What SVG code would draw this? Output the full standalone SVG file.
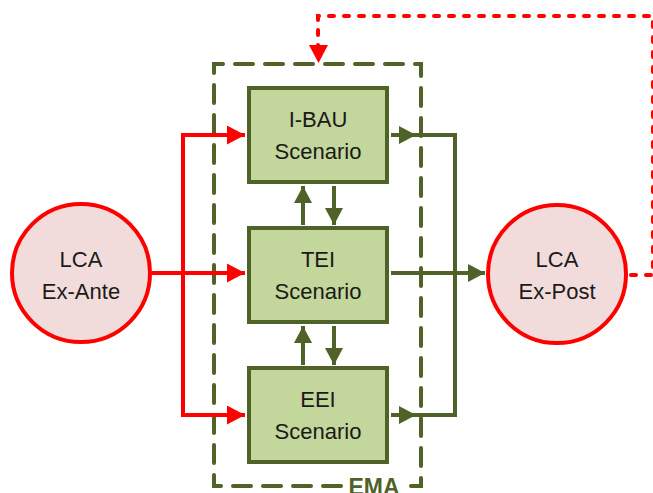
<svg xmlns="http://www.w3.org/2000/svg" width="653" height="493" viewBox="0 0 653 493">
<style>
.box{fill:#c3d69b;stroke:#4f6228;stroke-width:4}
.circ{fill:#f2dcdb;stroke:#ff0000;stroke-width:4}
.lbl{font-family:"Liberation Sans",Arial,sans-serif;font-size:22px;fill:#1a1a1a;text-anchor:middle}
.g{fill:none;stroke:#4f6228;stroke-width:4}
.r{fill:none;stroke:#ff0000;stroke-width:4}
</style>
<defs>
<marker id="ag" markerUnits="userSpaceOnUse" markerWidth="17" markerHeight="18" refX="17" refY="9" orient="auto"><path d="M0,0 L17,9 L0,18 z" fill="#4f6228"/></marker>
<marker id="ar" markerUnits="userSpaceOnUse" markerWidth="18" markerHeight="19" refX="18" refY="9.5" orient="auto"><path d="M0,0 L18,9.5 L0,19 z" fill="#ff0000"/></marker>
</defs>
<g id="ema">
<path d="M341,486 H214 V64 H421 V486 H405" fill="none" stroke="#4f6228" stroke-width="4" stroke-dasharray="18 12" stroke-linecap="round"/>
<text x="374" y="495" font-family="'Liberation Sans',Arial,sans-serif" font-weight="bold" font-size="23" fill="#4f6228" text-anchor="middle">EMA</text>
</g>
<g id="connectors">
<path class="r" d="M152,273 H245" marker-end="url(#ar)"/>
<path class="r" d="M183,135 V415"/>
<path class="r" d="M181,135 H245" marker-end="url(#ar)"/>
<path class="r" d="M181,415 H245" marker-end="url(#ar)"/>
<path class="g" d="M391,135 H416" marker-end="url(#ag)"/>
<path class="g" d="M391,415 H416" marker-end="url(#ag)"/>
<path class="g" d="M414,135 H455 V415 H414"/>
<path class="g" d="M391,273 H485" marker-end="url(#ag)"/>
<path class="g" d="M303,225 V186" marker-end="url(#ag)"/>
<path class="g" d="M334,186 V225" marker-end="url(#ag)"/>
<path class="g" d="M303,365 V326" marker-end="url(#ag)"/>
<path class="g" d="M334,326 V365" marker-end="url(#ag)"/>
<path d="M631,275 H653 V16 H318 V50" fill="none" stroke="#ff0000" stroke-width="4" stroke-dasharray="5 10" stroke-linecap="round"/>
<path d="M309,45 L328,45 L318.5,63 z" fill="#ff0000"/>
</g>
<g id="ibau">
<rect class="box" x="249" y="88" width="138" height="94"/>
<text class="lbl" x="318" y="127">I-BAU</text>
<text class="lbl" x="318" y="159">Scenario</text>
</g>
<g id="tei">
<rect class="box" x="249" y="228" width="138" height="94"/>
<text class="lbl" x="318" y="267">TEI</text>
<text class="lbl" x="318" y="299">Scenario</text>
</g>
<g id="eei">
<rect class="box" x="249" y="368" width="138" height="94"/>
<text class="lbl" x="318" y="407">EEI</text>
<text class="lbl" x="318" y="439">Scenario</text>
</g>
<g id="exante">
<circle class="circ" cx="81" cy="273" r="69"/>
<text class="lbl" x="81" y="267">LCA</text>
<text class="lbl" x="81" y="299">Ex-Ante</text>
</g>
<g id="expost">
<circle class="circ" cx="557" cy="274" r="69"/>
<text class="lbl" x="557" y="267">LCA</text>
<text class="lbl" x="557" y="299">Ex-Post</text>
</g>
</svg>
